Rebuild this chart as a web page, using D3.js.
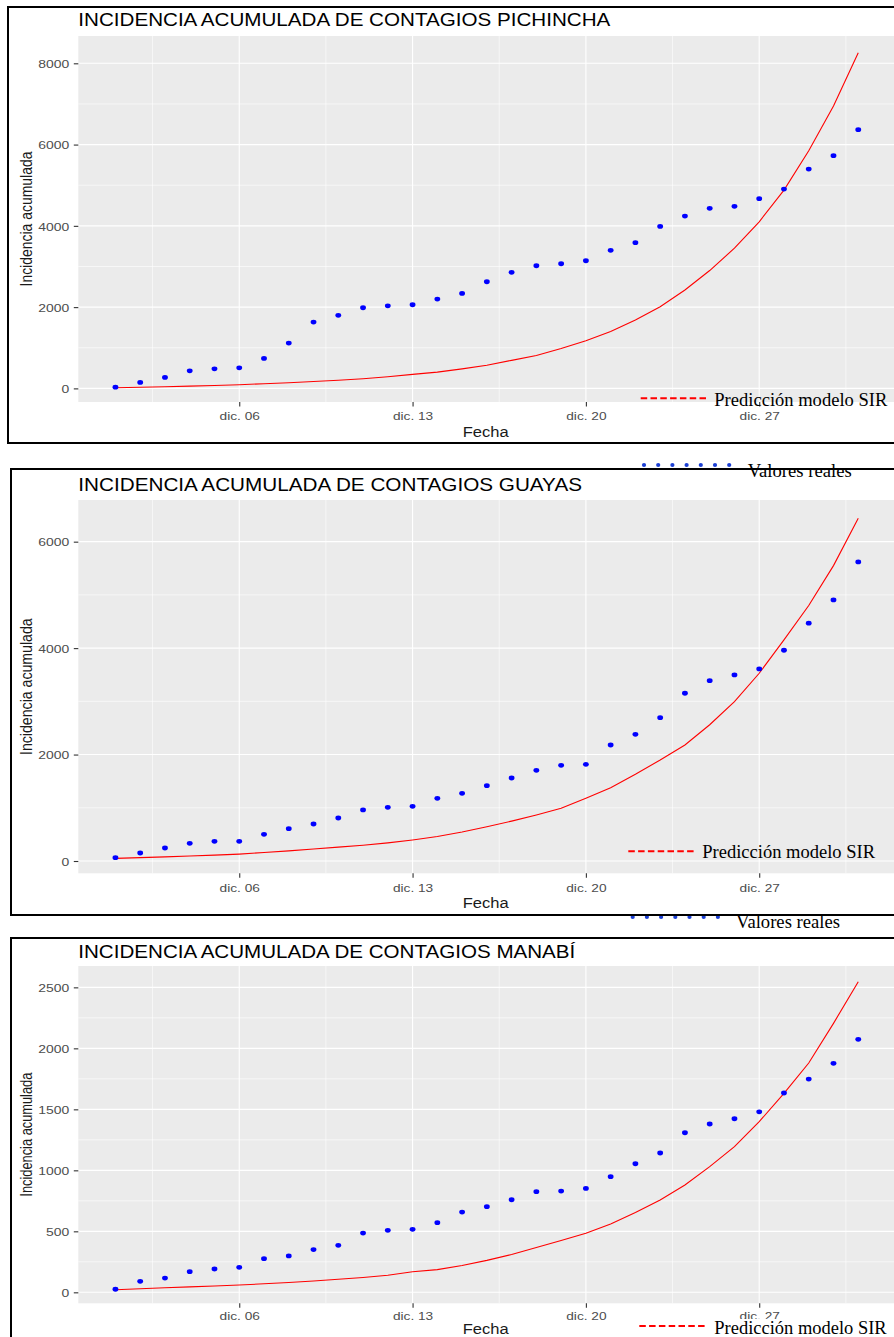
<!DOCTYPE html>
<html><head><meta charset="utf-8">
<script src="https://cdn.jsdelivr.net/npm/d3@7"></script>
<style>body{margin:0;background:#fff;} svg{display:block;}</style>
</head><body>
<svg id="c" width="894" height="1337"></svg>
<script>
// ---------------- DATA ----------------
const dias = [1,2,3,4,5,6,7,8,9,10,11,12,13,14,15,16,17,18,19,20,21,22,23,24,25,26,27,28,29,30,31];
const xTickDays = [6,13,20,27];
const xTickLabels = ["dic. 06","dic. 13","dic. 20","dic. 27"];

const pichinchaReal = [30,147,271,433,482,507,738,1115,1632,1797,1984,2033,2058,2198,2338,2624,2855,3018,3067,3141,3397,3585,3987,4241,4431,4480,4668,4906,5398,5726,6366];
const pichinchaSIR  = [15,28,42,55,70,88,115,140,170,200,238,285,344,400,480,570,690,810,980,1172,1400,1681,2010,2420,2900,3450,4100,4880,5850,6950,8260];

const guayasReal = [62,150,244,332,370,370,501,607,695,808,959,1009,1028,1178,1272,1416,1560,1704,1798,1817,2180,2381,2694,3152,3389,3496,3609,3960,4468,4906,5620];
const guayasSIR  = [50,64,78,93,110,130,160,190,225,260,295,340,395,460,545,645,750,865,990,1178,1378,1630,1898,2180,2560,2995,3528,4154,4800,5550,6442];

const manabiReal = [25,90,117,169,191,205,276,298,350,385,486,508,516,571,658,702,759,825,830,852,948,1054,1142,1308,1380,1423,1480,1634,1748,1877,2074];
const manabiSIR  = [21,29,37,45,52,60,70,80,93,107,122,140,169,186,220,262,310,368,425,484,560,655,757,880,1030,1194,1399,1631,1880,2205,2546];

const pichinchaYTicks = [0,2000,4000,6000,8000];
const pichinchaYMinor = [1000,3000,5000,7000];
const guayasYTicks = [0,2000,4000,6000];
const guayasYMinor = [1000,3000,5000];
const manabiYTicks = [0,500,1000,1500,2000,2500];
const manabiYMinor = [250,750,1250,1750,2250];

const titles = ["INCIDENCIA ACUMULADA DE CONTAGIOS PICHINCHA","INCIDENCIA ACUMULADA DE CONTAGIOS GUAYAS","INCIDENCIA ACUMULADA DE CONTAGIOS MANABÍ"];
const yTitle = "Incidencia acumulada";
const xTitle = "Fecha";
const legendSIR = "Predicción modelo SIR";
const legendReal = "Valores reales";

// ---------------- LAYOUT ----------------
const svg = d3.select("#c");
const SANS = "'Liberation Sans', Arial, sans-serif";
const SERIF = "'Liberation Serif', 'Times New Roman', serif";
const dateOf = d => new Date(Date.UTC(2020, 11, d));
const x0 = 78.3, x1 = 895.4;
const x = d3.scaleUtc().domain([new Date(Date.UTC(2020,10,29,12)), new Date(Date.UTC(2021,0,1,12))]).range([x0, x1]);
const xMinorDates = [2,9,16,23,30].map(d => new Date(Date.UTC(2020,11,d,12)));

function stretch(sel, f){
  sel.each(function(){
    const l = this.getComputedTextLength();
    d3.select(this).attr("textLength", l*f).attr("lengthAdjust","spacingAndGlyphs");
  });
}

const panels = [
  {title:titles[0], titleW:532, titleY:26, real:pichinchaReal, sir:pichinchaSIR,
   yDom:[-335,8672], top:36, bottom:402, yMajor:pichinchaYTicks, yMinor:pichinchaYMinor,
   xLabY:420, fechaY:436.7, yTitleLen:135,
   border:{x:8,y:7,h:436},
   legSIR:{x1:640.7,x2:706,y:398.3,tx:714.3,tw:173,ty:405.5},
   legReal:{x1:644,y:465,tx:747.7,tw:104,ty:476.5}},
  {title:titles[1], titleW:503.7, titleY:491, real:guayasReal, sir:guayasSIR,
   yDom:[-231,6783], top:500, bottom:873.3, yMajor:guayasYTicks, yMinor:guayasYMinor,
   xLabY:891.7, fechaY:908.3, yTitleLen:136.7,
   border:{x:11,y:469,h:446},
   legSIR:{x1:628.3,x2:695,y:851.3,tx:702.3,tw:172.7,ty:857.5},
   legReal:{x1:632.7,y:917,tx:736,tw:104,ty:928}},
  {title:titles[2], titleW:497, titleY:957.7, real:manabiReal, sir:manabiSIR,
   yDom:[-90,2675], top:966, bottom:1303.3, yMajor:manabiYTicks, yMinor:manabiYMinor,
   xLabY:1320, fechaY:1334, yTitleLen:124,
   border:{x:11,y:938,h:500},
   whiteBox:{x:632,y:1319,w:262,h:20},
   legSIR:{x1:639.3,x2:706,y:1326,tx:714.3,tw:172.4,ty:1333.5},
   legReal:null}
];

panels.forEach(p => {
  const g = svg.append("g");
  const y = d3.scaleLinear().domain(p.yDom).range([p.bottom, p.top]);

  // panel background
  g.append("rect").attr("x",x0).attr("y",p.top).attr("width",x1-x0).attr("height",p.bottom-p.top).attr("fill","#ebebeb");
  // minor grid
  g.selectAll(".hmin").data(p.yMinor).join("line").attr("class","hmin")
    .attr("x1",x0).attr("x2",x1).attr("y1",d=>y(d)).attr("y2",d=>y(d))
    .attr("stroke","#fff").attr("stroke-width",0.6);
  g.selectAll(".vmin").data(xMinorDates).join("line").attr("class","vmin")
    .attr("x1",d=>x(d)).attr("x2",d=>x(d)).attr("y1",p.top).attr("y2",p.bottom)
    .attr("stroke","#fff").attr("stroke-width",0.6);
  // major grid
  g.selectAll(".hmaj").data(p.yMajor).join("line").attr("class","hmaj")
    .attr("x1",x0).attr("x2",x1).attr("y1",d=>y(d)).attr("y2",d=>y(d))
    .attr("stroke","#fff").attr("stroke-width",1.1);
  g.selectAll(".vmaj").data(xTickDays).join("line").attr("class","vmaj")
    .attr("x1",d=>x(dateOf(d))).attr("x2",d=>x(dateOf(d))).attr("y1",p.top).attr("y2",p.bottom)
    .attr("stroke","#fff").attr("stroke-width",1.1);

  // SIR line
  g.append("path").datum(dias.map((d,i)=>[d,p.sir[i]]))
    .attr("d", d3.line().x(d=>x(dateOf(d[0]))).y(d=>y(d[1])))
    .attr("fill","none").attr("stroke","#ff0000").attr("stroke-width",1.1);

  // real points
  g.selectAll(".pt").data(dias.map((d,i)=>[d,p.real[i]])).join("ellipse").attr("class","pt")
    .attr("cx",d=>x(dateOf(d[0]))).attr("cy",d=>y(d[1]))
    .attr("rx",2.9).attr("ry",2.4).attr("fill","#0000ff");

  // y axis
  const ya = g.append("g").attr("transform",`translate(${x0},0)`)
    .call(d3.axisLeft(y).tickValues(p.yMajor).tickSize(4.5).tickPadding(4.5).tickFormat(d3.format("d")));
  ya.select(".domain").remove();
  ya.selectAll("line").attr("stroke","#333").attr("stroke-width",1.1);
  ya.selectAll("text").attr("fill","#4d4d4d").attr("dy","0.36em")
    .style("font-family",SANS).style("font-size","11.6px");
  stretch(ya.selectAll("text"), 1.2);

  // x axis
  const xa = g.append("g").attr("transform",`translate(0,${p.bottom})`)
    .call(d3.axisBottom(x).tickValues(xTickDays.map(dateOf)).tickSize(4.5).tickFormat((d,i)=>xTickLabels[i]));
  xa.select(".domain").remove();
  xa.selectAll("line").attr("stroke","#333").attr("stroke-width",1.1);
  xa.selectAll("text").attr("fill","#4d4d4d").attr("y", p.xLabY - p.bottom).attr("dy",0)
    .style("font-family",SANS).style("font-size","11.6px");
  stretch(xa.selectAll("text"), 1.18);

  // titles
  svg.append("text").attr("x",x0).attr("y",p.titleY).text(p.title)
    .attr("fill","#000").style("font-family",SANS).style("font-size","17.5px")
    .attr("textLength",p.titleW).attr("lengthAdjust","spacingAndGlyphs");
  svg.append("text").attr("x",462.7).attr("y",p.fechaY).text(xTitle)
    .attr("fill","#1a1a1a").style("font-family",SANS).style("font-size","14px")
    .attr("textLength",46).attr("lengthAdjust","spacingAndGlyphs");
  svg.append("text").attr("transform",`translate(32.3,${(p.top+p.bottom)/2}) rotate(-90)`)
    .attr("text-anchor","middle").text(yTitle)
    .attr("fill","#1a1a1a").style("font-family",SANS).style("font-size","17px")
    .attr("textLength",p.yTitleLen).attr("lengthAdjust","spacingAndGlyphs");

  if (p.whiteBox) {
    svg.append("rect").attr("x",p.whiteBox.x).attr("y",p.whiteBox.y)
      .attr("width",p.whiteBox.w).attr("height",p.whiteBox.h).attr("fill","#fff");
  }

  // legend SIR
  const ls = p.legSIR;
  svg.append("line").attr("x1",ls.x1).attr("x2",ls.x2).attr("y1",ls.y).attr("y2",ls.y)
    .attr("stroke","#ff0000").attr("stroke-width",2).attr("stroke-dasharray","6.5,3.3");
  svg.append("text").attr("x",ls.tx).attr("y",ls.ty).text(legendSIR)
    .attr("fill","#000").style("font-family",SERIF).style("font-size","18px")
    .attr("textLength",ls.tw).attr("lengthAdjust","spacingAndGlyphs");

  // legend real
  if (p.legReal) {
    const lr = p.legReal;
    svg.selectAll(null).data(d3.range(7)).join("circle")
      .attr("cx",i=>lr.x1 + i*14.2).attr("cy",lr.y).attr("r",2.1).attr("fill","#1b3fd3");
    svg.append("text").attr("x",lr.tx).attr("y",lr.ty).text(legendReal)
      .attr("fill","#000").style("font-family",SERIF).style("font-size","18px")
      .attr("textLength",lr.tw).attr("lengthAdjust","spacingAndGlyphs");
  }
});

// borders on top
panels.forEach(p => {
  svg.append("rect").attr("x",p.border.x).attr("y",p.border.y)
    .attr("width",900).attr("height",p.border.h)
    .attr("fill","none").attr("stroke","#000").attr("stroke-width",2);
});
</script>
</body></html>
